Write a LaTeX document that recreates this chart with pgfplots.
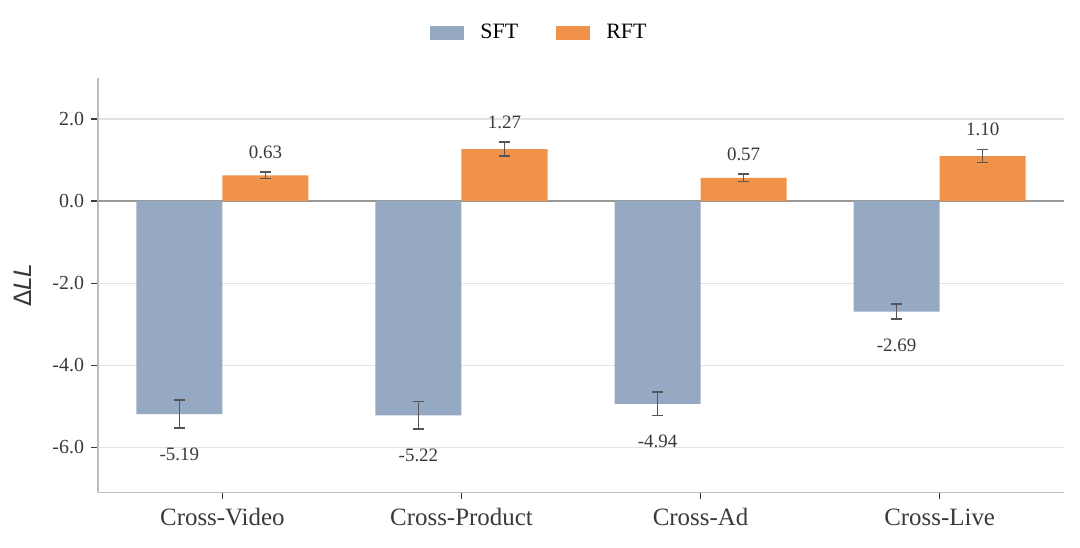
\documentclass[border=0pt]{standalone}
\usepackage{fontspec}
\setmainfont{Liberation Serif}
\newfontfamily\dejavu{DejaVu Sans}
\usepackage{pgfplots}
\usepackage{pgfplotstable}
\pgfplotsset{compat=1.18}
\definecolor{sftc}{HTML}{95A9C3}
\definecolor{rftc}{HTML}{F0924A}
\definecolor{gridc}{HTML}{E3E3E3}
\definecolor{axc}{HTML}{BDBDBD}
\definecolor{txt}{HTML}{3A3A3A}
\definecolor{errc}{HTML}{555555}

\pgfplotstableread{
x sft sfte rft rfte sftlab rftlab
0 -5.19 0.34 0.63 0.08 -5.19 0.63
1 -5.22 0.33 1.27 0.17 -5.22 1.27
2 -4.94 0.29 0.57 0.09 -4.94 0.57
3 -2.69 0.18 1.10 0.16 -2.69 1.10
}\data

\begin{document}
\begin{tikzpicture}
\begin{axis}[
  scale only axis,
  width=482.5bp, height=207bp,
  xmin=-0.52, xmax=3.52,
  ymin=-7.1, ymax=3.0,
  axis x line*=bottom, axis y line*=left,
  axis line style={axc, line width=0.8bp, -},
  xtick={0,1,2,3},
  xticklabels={Cross-Video,Cross-Product,Cross-Ad,Cross-Live},
  ytick={-6,-4,-2,0,2},
  yticklabel style={/pgf/number format/fixed, /pgf/number format/fixed zerofill, /pgf/number format/precision=1},
  /pgf/number format/assume math mode=true,
  tick align=outside,
  major tick length=3.5bp,
  tick style={txt, line width=0.7bp},
  ticklabel style={text=txt},
  yticklabel style={font=\fontsize{10}{12}\selectfont},
  xticklabel style={font=\fontsize{12.5}{14}\selectfont, yshift=-1bp},
  ymajorgrids,
  grid style={gridc, line width=0.6bp},
  extra y ticks={0},
  extra y tick labels={},
  extra y tick style={grid style={gray!80, line width=0.8bp}, major tick length=0pt},
  ylabel={\dejavu Δ\textit{LL}},
  ylabel style={font=\fontsize{12}{14}\selectfont, text=txt, at={(axis description cs:-0.0775,0.5)}, anchor=center},
  legend style={draw=none, fill=none, at={(0.458,1.109)}, anchor=center,
    font=\fontsize{11}{13}\selectfont, text=black,
    /tikz/every odd column/.append style={column sep=6bp},
    /tikz/every even column/.append style={column sep=17bp}},
  legend columns=2,
  legend cell align=left,
]
\addplot[ybar, bar width=0.36, bar shift=-0.18, fill=sftc, draw=none,
  legend image code/.code={\fill[sftc] (0bp,-3.3bp) rectangle (17bp,3.3bp);}]
  table[x=x, y=sft]{\data};
\addlegendentry{SFT}
\addplot[ybar, bar width=0.36, bar shift=0.18, fill=rftc, draw=none,
  legend image code/.code={\fill[rftc] (0bp,-3.3bp) rectangle (17bp,3.3bp);}]
  table[x=x, y=rft]{\data};
\addlegendentry{RFT}
% error bars
\addplot[draw=none, mark=none, forget plot,
  error bars/.cd, y dir=both, y explicit,
  error bar style={errc, line width=0.7bp},
  error mark options={rotate=90, mark size=2.75bp, errc, line width=0.7bp}]
  table[x expr=\thisrow{x}-0.18, y=sft, y error=sfte]{\data};
\addplot[draw=none, mark=none, forget plot,
  error bars/.cd, y dir=both, y explicit,
  error bar style={errc, line width=0.7bp},
  error mark options={rotate=90, mark size=2.75bp, errc, line width=0.7bp}]
  table[x expr=\thisrow{x}+0.18, y=rft, y error=rfte]{\data};
% value labels
\addplot[draw=none, mark=none, forget plot,
  nodes near coords, point meta=explicit symbolic,
  every node near coord/.append style={anchor=center, yshift=-13bp, font=\fontsize{9.5}{11}\selectfont, text=txt}]
  table[x expr=\thisrow{x}-0.18, y expr=\thisrow{sft}-\thisrow{sfte}, meta=sftlab]{\data};
\addplot[draw=none, mark=none, forget plot,
  nodes near coords, point meta=explicit symbolic,
  every node near coord/.append style={anchor=center, yshift=10bp, font=\fontsize{9.5}{11}\selectfont, text=txt}]
  table[x expr=\thisrow{x}+0.18, y expr=\thisrow{rft}+\thisrow{rfte}, meta=rftlab]{\data};
\end{axis}
\pgfresetboundingbox
\path ([shift={(-49bp,-27.5bp)}]current axis.south west) rectangle ([shift={(8bp,39bp)}]current axis.north east);
\end{tikzpicture}
\end{document}
